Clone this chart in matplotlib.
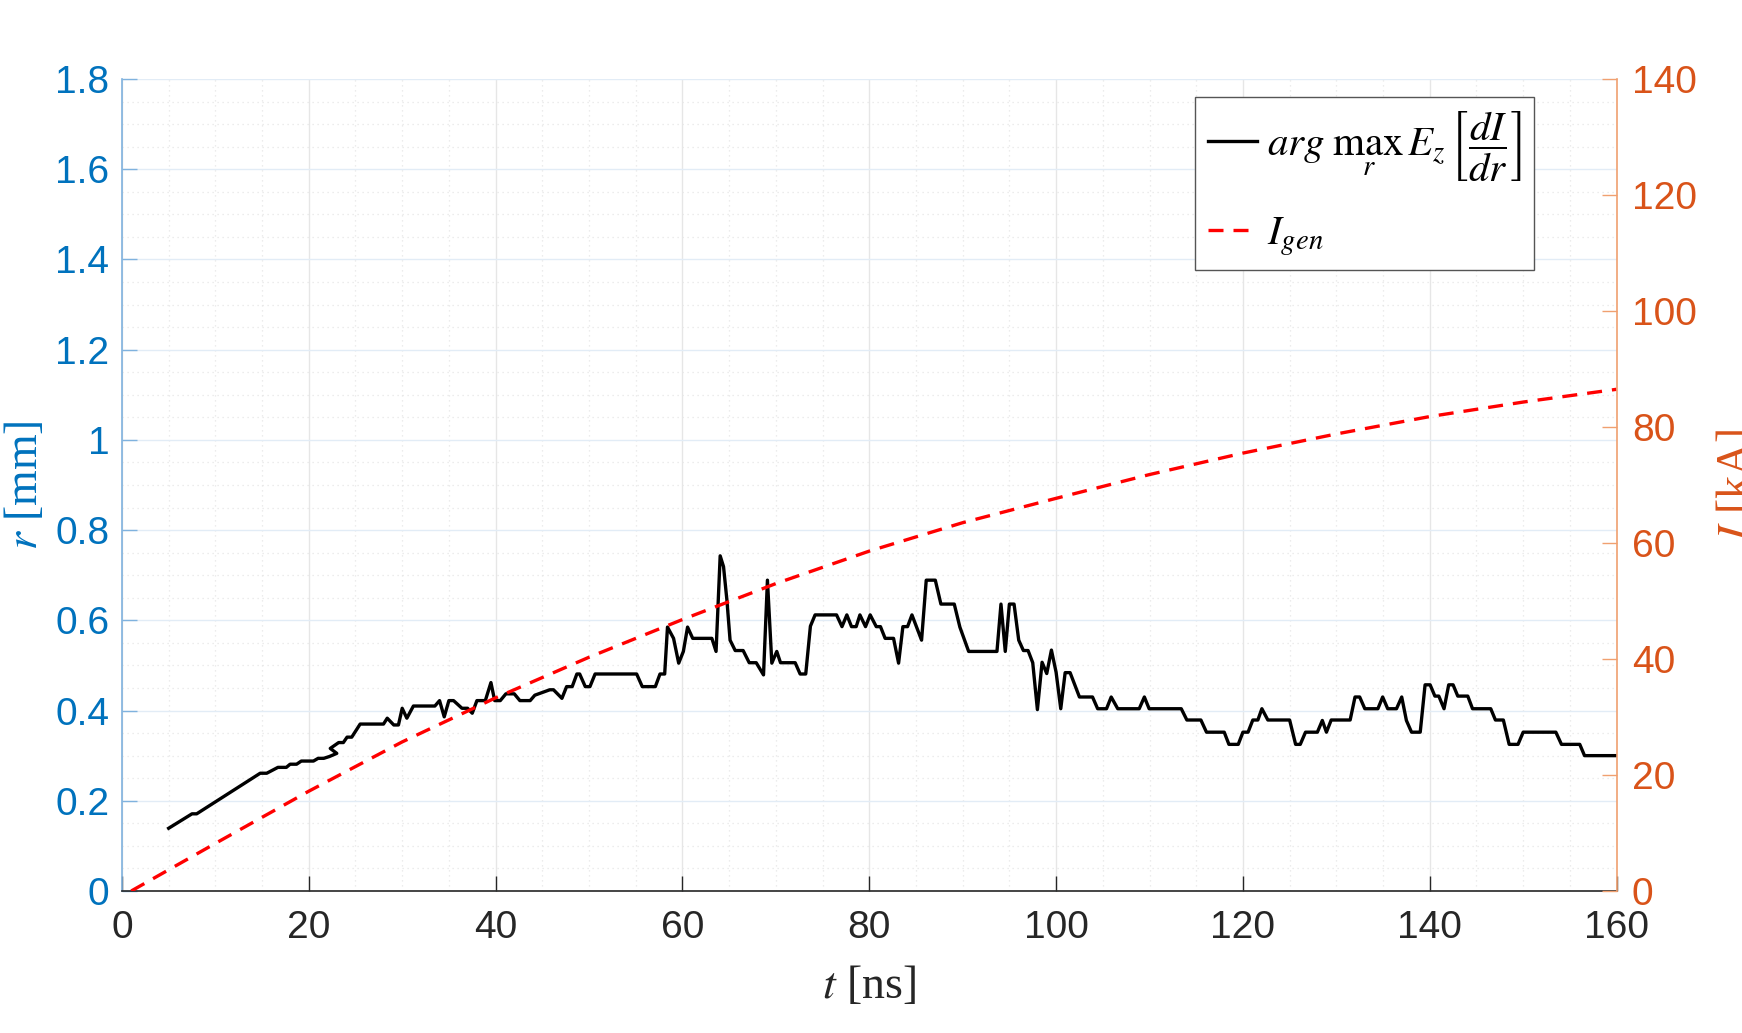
import numpy as np
import matplotlib.pyplot as plt
from matplotlib.ticker import MultipleLocator, FuncFormatter

plt.rcParams['mathtext.fontset'] = 'stix'
plt.rcParams['font.family'] = ['Liberation Sans', 'DejaVu Sans']

# arg max_r Ez[dI/dr]  (t in ns, r in mm)
t_r = [5.0, 7.5, 8.0, 14.8, 15.5, 16.7, 17.6, 18.0, 18.7, 19.2, 20.5, 21.0, 21.6,
       22.2, 23.0, 22.3, 23.2, 23.7, 24.1, 24.6, 25.5, 28.0, 28.4, 29.1, 29.6, 30.0,
       30.5, 31.2, 33.5, 34.0, 34.5, 35.0, 35.5, 36.4, 37.0, 37.5, 38.0, 38.9, 39.5,
       39.9, 40.5, 41.1, 42.0, 42.6, 43.7, 44.2, 45.8, 46.2, 47.1, 47.6, 48.2, 48.7,
       49.0, 49.6, 50.1, 50.65, 55.1, 55.7, 57.1, 57.6, 58.1, 58.4, 59.05, 59.6, 60.1,
       60.55, 61.1, 63.15, 63.6, 64.04, 64.4, 64.76, 65.1, 65.65, 66.5, 67.15, 67.9,
       68.68, 69.1, 69.57, 70.1, 70.5, 72.07, 72.6, 73.2, 73.7, 74.2, 76.5, 77.08,
       77.6, 78.1, 78.6, 79.0, 79.6, 80.1, 80.75, 81.2, 81.7, 82.6, 83.14, 83.6, 84.1,
       84.57, 85.6, 86.1, 87.07, 87.67, 89.1, 89.7, 90.64, 93.67, 94.1, 94.56, 95.0,
       95.5, 96.0, 96.5, 97.0, 97.5, 98.0, 98.5, 99.0, 99.5, 100.0, 100.5, 100.97,
       101.5, 102.5, 103.9, 104.45, 105.4, 105.9, 106.6, 108.9, 109.45, 109.96, 113.4,
       114.0, 115.5, 116.1, 118.0, 118.5, 119.5, 120.0, 120.55, 121.06, 121.6, 122.03,
       122.67, 125.0, 125.64, 126.14, 126.7, 127.97, 128.5, 128.94, 129.45, 131.48,
       132.0, 132.5, 133.05, 134.45, 134.96, 135.5, 136.44, 137.0, 137.5, 138.05,
       138.98, 139.5, 140.04, 140.55, 140.97, 141.53, 142.03, 142.5, 143.0, 144.07,
       144.58, 146.53, 147.03, 147.88, 148.5, 149.45, 150.0, 153.5, 154.1, 156.06,
       156.57, 160.0]
r_max = [0.139, 0.171, 0.171, 0.261, 0.261, 0.274, 0.274, 0.281, 0.281, 0.288, 0.288,
         0.294, 0.294, 0.298, 0.305, 0.316, 0.329, 0.329, 0.341, 0.341, 0.370, 0.370,
         0.383, 0.368, 0.368, 0.405, 0.383, 0.410, 0.410, 0.422, 0.386, 0.422, 0.422,
         0.405, 0.405, 0.394, 0.422, 0.422, 0.462, 0.422, 0.422, 0.437, 0.437, 0.422,
         0.422, 0.434, 0.446, 0.446, 0.427, 0.453, 0.453, 0.481, 0.481, 0.453, 0.453,
         0.481, 0.481, 0.453, 0.453, 0.481, 0.481, 0.585, 0.560, 0.505, 0.531, 0.585,
         0.560, 0.560, 0.531, 0.743, 0.719, 0.645, 0.556, 0.533, 0.533, 0.506, 0.506,
         0.479, 0.689, 0.505, 0.531, 0.506, 0.506, 0.481, 0.481, 0.587, 0.612, 0.612,
         0.586, 0.612, 0.586, 0.586, 0.612, 0.586, 0.612, 0.586, 0.586, 0.560, 0.560,
         0.505, 0.586, 0.586, 0.612, 0.556, 0.689, 0.689, 0.636, 0.636, 0.585, 0.531,
         0.531, 0.636, 0.531, 0.636, 0.636, 0.556, 0.533, 0.533, 0.506, 0.402, 0.507,
         0.482, 0.534, 0.485, 0.404, 0.484, 0.484, 0.430, 0.430, 0.404, 0.404, 0.430,
         0.404, 0.404, 0.430, 0.404, 0.404, 0.379, 0.379, 0.352, 0.352, 0.325, 0.325,
         0.352, 0.352, 0.379, 0.379, 0.404, 0.379, 0.379, 0.325, 0.325, 0.352, 0.352,
         0.378, 0.352, 0.379, 0.379, 0.430, 0.430, 0.404, 0.404, 0.430, 0.404, 0.404,
         0.430, 0.378, 0.352, 0.352, 0.457, 0.457, 0.432, 0.432, 0.404, 0.457, 0.457,
         0.432, 0.432, 0.404, 0.404, 0.379, 0.379, 0.325, 0.325, 0.352, 0.352, 0.325,
         0.325, 0.300, 0.300]

# generator current (kA)
t_gen = [1, 10, 20, 30, 40, 50, 60, 70, 80, 90, 100, 110, 120, 130, 140, 150, 160]
I_gen = [0, 8.2, 17.2, 25.7, 33.3, 40.3, 46.8, 53.0, 58.6, 63.5, 67.7, 71.8, 75.5,
         78.8, 81.8, 84.3, 86.5]

blue = '#0072BD'
orange = '#D95319'
dark = '#262626'

fig = plt.figure(figsize=(17.42, 10.33), dpi=100)
ax = fig.add_axes([0.070, 0.1375, 0.858, 0.786])
ax2 = ax.twinx()

l1, = ax.plot(t_r, r_max, color='black', lw=2.4)
l2, = ax2.plot(t_gen, I_gen, color='#FF0000', lw=2.4, ls=(0, (4.5, 3)))

ax.set_xlim(0, 160)
ax.set_ylim(0, 1.8)
ax2.set_ylim(0, 140)

ax.xaxis.set_major_locator(MultipleLocator(20))
ax.xaxis.set_minor_locator(MultipleLocator(5))
ax.yaxis.set_major_locator(MultipleLocator(0.2))
ax.yaxis.set_minor_locator(MultipleLocator(0.05))
ax.yaxis.set_major_formatter(FuncFormatter(lambda v, p: '%g' % round(v, 2)))
ax2.yaxis.set_major_locator(MultipleLocator(20))

ax.grid(which='major', axis='x', color='#E6E6E6', lw=1.0)
ax.grid(which='major', axis='y', color='#E2ECF6', lw=1.0)
ax.grid(which='minor', color='#E6E6E6', lw=0.9, ls=(0, (1, 3)))
ax.set_axisbelow(True)

for s in ['top', 'right']:
    ax.spines[s].set_visible(False)
for s in ['top', 'left', 'bottom']:
    ax2.spines[s].set_visible(False)
ax.spines['left'].set_color('#7FB2DE')
ax.spines['bottom'].set_color(dark)
ax2.spines['right'].set_color('#F0A070')
for s in [ax.spines['left'], ax.spines['bottom'], ax2.spines['right']]:
    s.set_linewidth(1.2)

ax.tick_params(axis='x', which='major', direction='in', length=10.8, width=1,
               colors=dark, labelsize=28, pad=13.5)
ax.tick_params(axis='x', which='minor', length=0)
ax.tick_params(axis='y', which='major', direction='in', length=10.8, width=1,
               color='#7FB2DE', labelcolor=blue, labelsize=28, pad=9)
ax.tick_params(axis='y', which='minor', length=0)
ax2.tick_params(axis='y', which='major', direction='in', length=10.8, width=1,
                color='#F0A070', labelcolor=orange, labelsize=28, pad=11)

ax.set_xlabel(r'$t$ [ns]', fontsize=33, color=dark, family='Liberation Serif',
              labelpad=14)
ax.set_ylabel(r'$r$ [mm]', fontsize=33, color=blue, family='Liberation Serif',
              labelpad=6)
ax2.set_ylabel(r'$I$ [kA]', fontsize=33, color=orange, family='Liberation Serif',
               labelpad=14, rotation=90)

leg = ax2.legend([l1, l2],
                 [r'$arg\;\max_{r}\,E_z\left[\dfrac{dI}{dr}\right]$', r'$I_{gen}$'],
                 loc='upper right', bbox_to_anchor=(0.945, 0.978), borderaxespad=0,
                 fontsize=29.5, fancybox=False, framealpha=1, edgecolor='#555555',
                 handlelength=1.2, handletextpad=0.25, borderpad=0.3,
                 labelspacing=0.75)
leg.get_frame().set_linewidth(1.0)

fig.savefig('out.png', dpi=100)
